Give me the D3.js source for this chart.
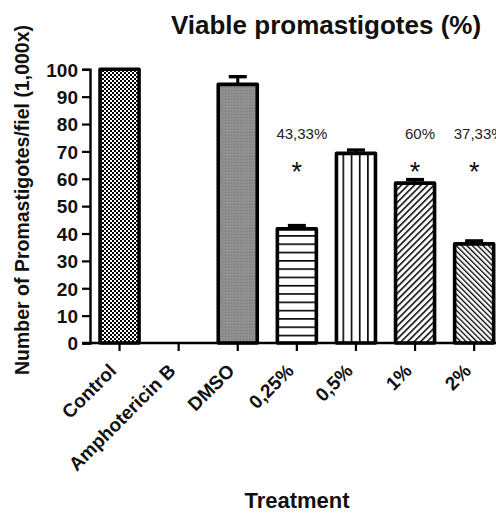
<!DOCTYPE html>
<html><head><meta charset="utf-8">
<script src="https://cdn.jsdelivr.net/npm/d3@7"></script>
<style>body{margin:0;background:#fff}svg{display:block;font-family:"Liberation Sans",Arial,sans-serif}</style>
</head><body><svg id="c" width="496" height="515"></svg>
<script>
const categories = ["Control","Amphotericin B","DMSO","0,25%","0,5%","1%","2%"];
const values = [100, 0, 94.5, 41.7, 69.3, 58.4, 36.2];
const errors = [0, 0, 2.8, 1.2, 1.2, 1.3, 1.1];
const patterns = ["checker","none","gray","hlines","vlines","fdiag","bdiag"];
const annotations = [null, null, null, "43,33%", null, "60%", "37,33%"];
const stars = [false, false, false, true, false, true, true];
const yTicks = [0,10,20,30,40,50,60,70,80,90,100];
const title = "Viable promastigotes (%)";
const yLabel = "Number of Promastigotes/fiel (1,000x)";
const xLabel = "Treatment";

const FONT = '"Liberation Sans", Arial, sans-serif';
const svg = d3.select("#c");
const x0 = 90, yBase = 343;
const y = d3.scaleLinear().domain([0,100]).range([yBase, 69.3]);
const x = d3.scaleBand().domain(categories).range([x0, x0 + 7*59.1]).paddingInner(0.34).paddingOuter(0.17);

const defs = svg.append("defs");
let p = defs.append("pattern").attr("id","checker").attr("patternUnits","userSpaceOnUse").attr("width",4).attr("height",4);
p.append("rect").attr("width",4).attr("height",4).attr("fill","#fff");
p.append("rect").attr("width",2).attr("height",2).attr("fill","#000");
p.append("rect").attr("x",2).attr("y",2).attr("width",2).attr("height",2).attr("fill","#000");
p = defs.append("pattern").attr("id","gray").attr("patternUnits","userSpaceOnUse").attr("width",3).attr("height",3);
p.append("rect").attr("width",3).attr("height",3).attr("fill","#8e8e8e");
p.append("rect").attr("width",1).attr("height",1).attr("fill","#7a7a7a");
p.append("rect").attr("x",2).attr("y",1).attr("width",1).attr("height",1).attr("fill","#999");
p = defs.append("pattern").attr("id","hlines").attr("patternUnits","userSpaceOnUse").attr("width",10).attr("height",8.3).attr("y", yBase);
p.append("rect").attr("width",10).attr("height",8.3).attr("fill","#fff");
p.append("rect").attr("y",0).attr("width",10).attr("height",1.6).attr("fill","#000");
p = defs.append("pattern").attr("id","vlines").attr("patternUnits","userSpaceOnUse").attr("width",8.2).attr("height",10).attr("x", 343.3-0.8);
p.append("rect").attr("width",8.2).attr("height",10).attr("fill","#fff");
p.append("rect").attr("x",0).attr("width",1.6).attr("height",10).attr("fill","#000");
p = defs.append("pattern").attr("id","fdiag").attr("patternUnits","userSpaceOnUse").attr("width",4.6).attr("height",4.6).attr("patternTransform","rotate(45)");
p.append("rect").attr("width",4.6).attr("height",4.6).attr("fill","#fff");
p.append("rect").attr("width",1.5).attr("height",4.6).attr("fill","#000");
p = defs.append("pattern").attr("id","bdiag").attr("patternUnits","userSpaceOnUse").attr("width",3.8).attr("height",3.8).attr("patternTransform","rotate(-45)");
p.append("rect").attr("width",3.8).attr("height",3.8).attr("fill","#fff");
p.append("rect").attr("width",1.3).attr("height",3.8).attr("fill","#000");

const data = categories.map((c,i)=>({c, v:values[i], e:errors[i], p:patterns[i], a:annotations[i], s:stars[i]}));

svg.append("g").selectAll("rect").data(data.filter(d=>d.v>0)).join("rect")
  .attr("x", d=>x(d.c)).attr("y", d=>y(d.v))
  .attr("width", x.bandwidth()).attr("height", d=>y(0)-y(d.v))
  .attr("fill", d=>`url(#${d.p})`).attr("stroke","#000").attr("stroke-width",3.6).attr("stroke-linejoin","round");

const eb = svg.append("g").selectAll("g").data(data.filter(d=>d.e>0)).join("g");
eb.append("line").attr("x1",d=>x(d.c)+x.bandwidth()/2).attr("x2",d=>x(d.c)+x.bandwidth()/2)
  .attr("y1",d=>y(d.v)).attr("y2",d=>y(d.v+d.e)).attr("stroke","#000").attr("stroke-width",3);
eb.append("line").attr("x1",d=>x(d.c)+x.bandwidth()/2-9).attr("x2",d=>x(d.c)+x.bandwidth()/2+9)
  .attr("y1",d=>y(d.v+d.e)).attr("y2",d=>y(d.v+d.e)).attr("stroke","#000").attr("stroke-width",3.4);

const ya = svg.append("g").attr("transform",`translate(${x0},0)`)
  .call(d3.axisLeft(y).tickValues(yTicks).tickSize(8).tickPadding(4));
ya.attr("font-family", FONT).attr("font-size",19);
ya.select(".domain").attr("stroke-width",2.4);
ya.selectAll(".tick line").attr("stroke-width",2.2);
ya.selectAll("text").attr("font-size",19).attr("font-weight","bold").attr("fill","#111").attr("dy","0.36em");

const xa = svg.append("g").attr("transform",`translate(0,${yBase})`)
  .call(d3.axisBottom(x).tickSize(8).tickSizeOuter(0).tickFormat(d=>d));
xa.attr("font-family", FONT).attr("font-size",19);
xa.select(".domain").attr("d", `M${x0-8},0H520`).attr("stroke-width",2.4);
xa.selectAll(".tick line").attr("stroke-width",2.2);
xa.selectAll("text").attr("font-size",19).attr("font-weight","bold").attr("fill","#111")
  .attr("text-anchor","end").attr("transform","translate(-2,29) rotate(-45)").attr("dy","0").attr("y",0).attr("x",0);

svg.append("g").selectAll("text").data(data.filter(d=>d.a)).join("text")
  .attr("x", d=>x(d.c)+x.bandwidth()/2+5).attr("y",139).attr("text-anchor","middle")
  .attr("font-size",15).attr("fill","#222").text(d=>d.a);
svg.append("g").selectAll("text").data(data.filter(d=>d.s)).join("text")
  .attr("x", d=>x(d.c)+x.bandwidth()/2).attr("y",181).attr("text-anchor","middle")
  .attr("font-size",27).attr("fill","#111").text("*");

svg.append("text").attr("x",326).attr("y",34).attr("text-anchor","middle").attr("font-size",26).attr("font-weight","bold").attr("fill","#111").text(title);
svg.append("text").attr("transform","translate(29,200) rotate(-90)").attr("text-anchor","middle").attr("font-size",19.5).attr("font-weight","bold").attr("fill","#111").text(yLabel);
svg.append("text").attr("x",297).attr("y",508).attr("text-anchor","middle").attr("font-size",22).attr("font-weight","bold").attr("fill","#111").text(xLabel);
</script></body></html>
